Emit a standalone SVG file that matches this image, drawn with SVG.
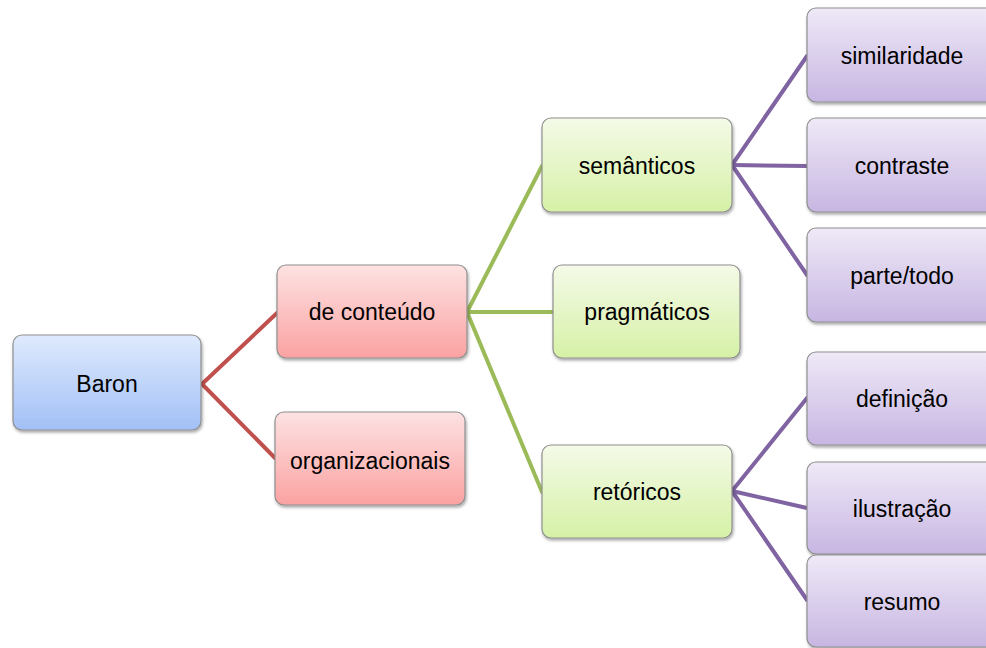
<svg xmlns="http://www.w3.org/2000/svg" width="986" height="648" viewBox="0 0 986 648">
<defs>
<linearGradient id="gBlue" x1="0" y1="0" x2="0" y2="1"><stop offset="0" stop-color="#dfeafd"/><stop offset="1" stop-color="#a2c0f6"/></linearGradient>
<linearGradient id="gRed" x1="0" y1="0" x2="0" y2="1"><stop offset="0" stop-color="#fde2e2"/><stop offset="1" stop-color="#fba2a2"/></linearGradient>
<linearGradient id="gGreen" x1="0" y1="0" x2="0" y2="1"><stop offset="0" stop-color="#f4fae8"/><stop offset="1" stop-color="#d6f1a6"/></linearGradient>
<linearGradient id="gPurple" x1="0" y1="0" x2="0" y2="1"><stop offset="0" stop-color="#efe9f7"/><stop offset="1" stop-color="#c7b6e2"/></linearGradient>
<filter id="sh" x="-10%" y="-10%" width="125%" height="130%"><feDropShadow dx="1" dy="2" stdDeviation="1.8" flood-color="#000" flood-opacity="0.35"/></filter>
</defs>
<style>
.n rect{stroke:#8f8f8f;stroke-width:1.2;filter:url(#sh)}
.b rect{fill:url(#gBlue)}
.r rect{fill:url(#gRed)}
.g rect{fill:url(#gGreen)}
.p rect{fill:url(#gPurple)}
.n text{font-family:"Liberation Sans",Arial,sans-serif;font-size:23px;fill:#000;text-anchor:middle;dominant-baseline:central}
.c line{stroke-width:4;stroke-linecap:round}
.cr line{stroke:#c0504d}
.cg line{stroke:#9bbb59}
.cp line{stroke:#8064a2}
</style>
<rect width="986" height="648" fill="#fff"/>
<g id="connectors" class="c">
<g class="cr">
<line x1="202" y1="384" x2="277" y2="313"/>
<line x1="202" y1="384" x2="275" y2="458"/>
</g>
<g class="cg">
<line x1="467" y1="312" x2="542" y2="166"/>
<line x1="467" y1="312" x2="553" y2="312"/>
<line x1="467" y1="312" x2="542" y2="492"/>
</g>
<g class="cp">
<line x1="732" y1="165" x2="807" y2="56"/>
<line x1="732" y1="165" x2="807" y2="166"/>
<line x1="732" y1="165" x2="807" y2="275"/>
<line x1="732" y1="491" x2="807" y2="398"/>
<line x1="732" y1="491" x2="807" y2="508"/>
<line x1="732" y1="491" x2="807" y2="600"/>
</g>
</g>
<g id="baron" class="n b"><rect x="13" y="335" width="188" height="95" rx="9"/><text x="107" y="384">Baron</text></g>
<g id="de-conteudo" class="n r"><rect x="277" y="265" width="190" height="93" rx="9"/><text x="372" y="312">de conteúdo</text></g>
<g id="organizacionais" class="n r"><rect x="275" y="412" width="190" height="93" rx="9"/><text x="370" y="461">organizacionais</text></g>
<g id="semanticos" class="n g"><rect x="542" y="118" width="190" height="94" rx="9"/><text x="637" y="166">semânticos</text></g>
<g id="pragmaticos" class="n g"><rect x="553" y="265" width="187" height="93" rx="9"/><text x="647" y="312">pragmáticos</text></g>
<g id="retoricos" class="n g"><rect x="542" y="445" width="190" height="93" rx="9"/><text x="637" y="492">retóricos</text></g>
<g id="similaridade" class="n p"><rect x="807" y="8" width="190" height="94" rx="9"/><text x="902" y="56">similaridade</text></g>
<g id="contraste" class="n p"><rect x="807" y="118" width="190" height="94" rx="9"/><text x="902" y="166">contraste</text></g>
<g id="parte-todo" class="n p"><rect x="807" y="228" width="190" height="94" rx="9"/><text x="902" y="276">parte/todo</text></g>
<g id="definicao" class="n p"><rect x="807" y="352" width="190" height="93" rx="9"/><text x="902" y="399">definição</text></g>
<g id="ilustracao" class="n p"><rect x="807" y="462" width="190" height="92" rx="9"/><text x="902" y="509">ilustração</text></g>
<g id="resumo" class="n p"><rect x="807" y="555" width="190" height="92" rx="9"/><text x="902" y="602">resumo</text></g>
</svg>
